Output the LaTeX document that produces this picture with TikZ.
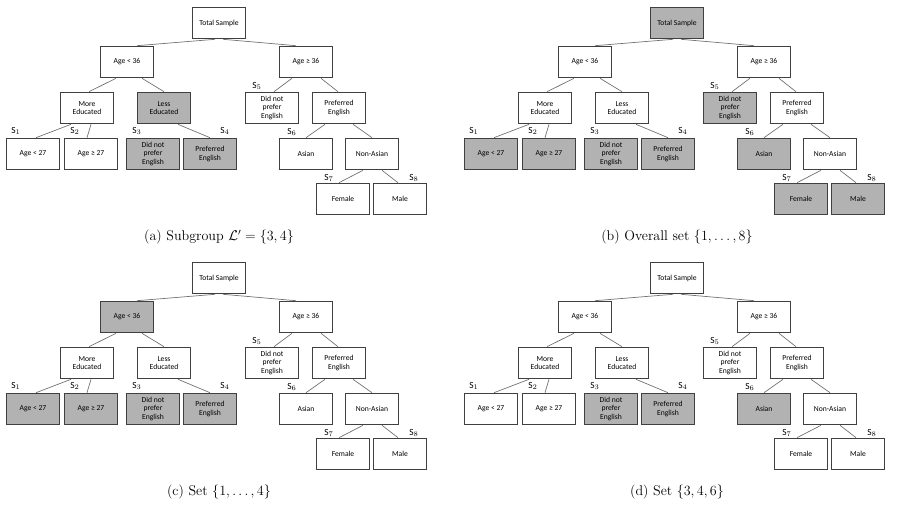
\documentclass[tikz,border=0pt]{standalone}
\usepackage{fontspec}
\newfontfamily\boxfont{Carlito}
\usetikzlibrary{positioning, calc}

\tikzset{
    box/.style={rectangle, draw=black!75, thick, fill=white, minimum width=1.6cm, minimum height=0.95cm,
        inner sep=1pt, align=center, font=\boxfont\fontsize{6.5}{7.2}\selectfont},
    link/.style={draw=black!55, semithick},
    slabel/.style={font=\boxfont\fontsize{8}{9}\selectfont, inner sep=0pt},
    shaded/.style={fill=black!30},
    % highlighted boxes of each panel
    a-less/.style=shaded, a-s3/.style=shaded, a-s4/.style=shaded,
    b-total/.style=shaded, b-s1/.style=shaded, b-s2/.style=shaded, b-s3/.style=shaded, b-s4/.style=shaded,
    b-s5/.style=shaded, b-s6/.style=shaded, b-s7/.style=shaded, b-s8/.style=shaded,
    c-young/.style=shaded, c-s1/.style=shaded, c-s2/.style=shaded, c-s3/.style=shaded, c-s4/.style=shaded,
    d-s3/.style=shaded, d-s4/.style=shaded, d-s6/.style=shaded
}

% one tree: panel tag, x shift, y shift, caption
\newcommand{\drawtree}[4]{
    \begin{scope}[shift={(#2,#3)}]
        \node[box, #1-total/.try] (#1total) at (219,23) {Total Sample};
        \node[box, #1-young/.try] (#1young) at (127,62) {Age < 36};
        \node[box, #1-old/.try] (#1old) at (306,62) {Age ≥ 36};
        \node[box, #1-more/.try] (#1more) at (87,108) {More\\Educated};
        \node[box, #1-less/.try] (#1less) at (164,108) {Less\\Educated};
        \node[box, #1-s5/.try] (#1s5) at (272,108) {Did not\\prefer\\English};
        \node[box, #1-pref/.try] (#1pref) at (339,108) {Preferred\\English};
        \node[box, #1-s1/.try] (#1s1) at (33,154) {Age < 27};
        \node[box, #1-s2/.try] (#1s2) at (91,154) {Age ≥ 27};
        \node[box, #1-s3/.try] (#1s3) at (153,154) {Did not\\prefer\\English};
        \node[box, #1-s4/.try] (#1s4) at (210,154) {Preferred\\English};
        \node[box, #1-s6/.try] (#1s6) at (306,154) {Asian};
        \node[box, #1-nonasian/.try] (#1nonasian) at (372,154) {Non-Asian};
        \node[box, #1-s7/.try] (#1s7) at (343,199) {Female};
        \node[box, #1-s8/.try] (#1s8) at (400,199) {Male};

        % links
        \draw[link] ($(#1total.south)+(-4,0)$) -- ($(#1young.north)+(10,0)$);
        \draw[link] ($(#1total.south)+(4,0)$) -- ($(#1old.north)+(-10,0)$);
        \draw[link] ($(#1young.south)+(-11,0)$) -- ($(#1more.north)+(2,0)$);
        \draw[link] ($(#1young.south)+(15,0)$) -- ($(#1less.north)+(0,0)$);
        \draw[link] ($(#1old.south)+(-14,0)$) -- ($(#1s5.north)+(2,0)$);
        \draw[link] ($(#1old.south)+(15,0)$) -- ($(#1pref.north)+(-1,0)$);
        \draw[link] ($(#1more.south)+(-16,0)$) -- ($(#1s1.north)+(3,0)$);
        \draw[link] ($(#1more.south)+(4,0)$) -- (#1more.south |- #1s2.north);
        \draw[link] ($(#1less.south)+(-12,0)$) -- (#1less.south -| 152,0 |- #1s3.north);
        \draw[link] ($(#1less.south)+(14,0)$) -- ($(#1s4.north)+(0,0)$);
        \draw[link] ($(#1pref.south)+(-14,0)$) -- ($(#1s6.north)+(0,0)$);
        \draw[link] ($(#1pref.south)+(14,0)$) -- ($(#1nonasian.north)+(0,0)$);
        \draw[link] ($(#1nonasian.south)+(-9,0)$) -- ($(#1s7.north)+(-4,0)$);
        \draw[link] ($(#1nonasian.south)+(10,0)$) -- ($(#1s8.north)+(-2,0)$);

        % subgroup labels
        \node[slabel] (#1l1) at (16,131) {S$_1$};
        \node[slabel] (#1l2) at (75,131) {S$_2$};
        \node[slabel] (#1l3) at (137,131) {S$_3$};
        \node[slabel] (#1l4) at (225,131) {S$_4$};
        \node[slabel] (#1l5) at (257,86) {S$_5$};
        \node[slabel] (#1l6) at (292,132) {S$_6$};
        \node[slabel] (#1l7) at (329,178) {S$_7$};
        \node[slabel] (#1l8) at (414,178) {S$_8$};

        \node[font=\large] (#1caption) at (219,237) {#4};
    \end{scope}
}

\begin{document}
\begin{tikzpicture}[x=0.03cm, y=-0.03cm]
    \useasboundingbox (0,0) rectangle (914,509);
    \drawtree{a}{0}{0}{(a) Subgroup $\mathcal{L}'=\{3,4\}$}
    \drawtree{b}{458}{0}{(b) Overall set $\{1,\ldots,8\}$}
    \drawtree{c}{0}{255}{(c) Set $\{1,\ldots,4\}$}
    \drawtree{d}{458}{255}{(d) Set $\{3,4,6\}$}
\end{tikzpicture}
\end{document}
